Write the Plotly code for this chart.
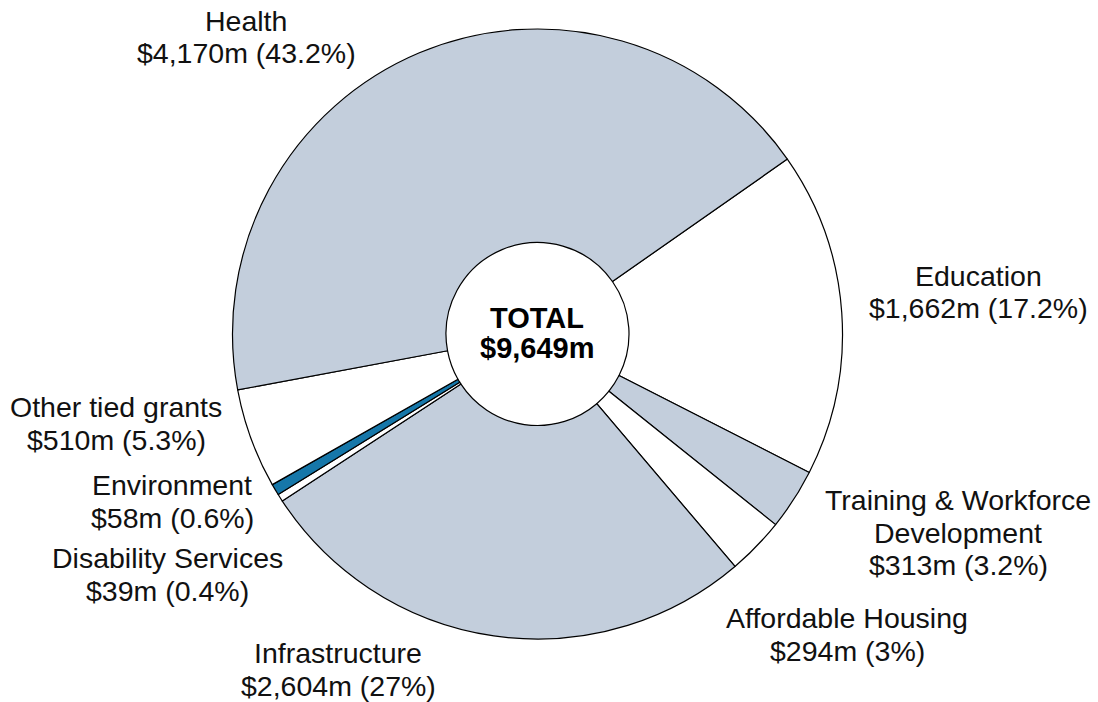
import plotly.graph_objects as go

labels = ["Education", "Training & Workforce Development", "Affordable Housing",
          "Infrastructure", "Disability Services", "Environment",
          "Other tied grants", "Health"]
values = [1662, 313, 294, 2604, 39, 58, 510, 4170]
colors = ["#ffffff", "#c3cedc", "#ffffff", "#c3cedc", "#ffffff", "#1677a9",
          "#ffffff", "#c3cedc"]
label_lines = [
    ["Education", "$1,662m (17.2%)"],
    ["Training & Workforce", "Development", "$313m (3.2%)"],
    ["Affordable Housing", "$294m (3%)"],
    ["Infrastructure", "$2,604m (27%)"],
    ["Disability Services", "$39m (0.4%)"],
    ["Environment", "$58m (0.6%)"],
    ["Other tied grants", "$510m (5.3%)"],
    ["Health", "$4,170m (43.2%)"],
]
# label block positions (pixel centre of first line)
label_pos = [(978, 276), (958, 500), (847, 618), (338, 653),
             (167, 558), (172, 485), (116, 407), (246, 21)]
total_lines = ["TOTAL", "$9,649m"]

W, H = 1098, 702
fig = go.Figure(go.Pie(
    labels=labels, values=values, sort=False, direction="clockwise",
    rotation=55, hole=0.30,
    marker=dict(colors=colors, line=dict(color="#000000", width=1.2)),
    textinfo="none", showlegend=False,
    domain=dict(x=[232 / W, 843 / W], y=[1 - 639 / H, 1 - 29 / H]),
))

font = "Liberation Sans, Arial, sans-serif"
ann = []
LS = 32.5
for lines, (px, py) in zip(label_lines, label_pos):
    for i, t in enumerate(lines):
        ann.append(dict(x=px / W, y=1 - (py + i * LS) / H, xref="paper", yref="paper",
                        text=t, showarrow=False, xanchor="center", yanchor="middle",
                        font=dict(family=font, size=28.5, color="#111111")))
for i, t in enumerate(total_lines):
    ann.append(dict(x=537 / W, y=1 - (318 + i * 30) / H, xref="paper", yref="paper",
                    text="<b>" + t + "</b>", showarrow=False, xanchor="center",
                    yanchor="middle", font=dict(family=font, size=29, color="#000000")))

fig.update_layout(width=W, height=H, margin=dict(l=0, r=0, t=0, b=0),
                  paper_bgcolor="white", plot_bgcolor="white", annotations=ann)
fig.write_html("out.html", config={"displayModeBar": False},
               post_script="document.body.style.margin='0';document.body.style.padding='0';")
